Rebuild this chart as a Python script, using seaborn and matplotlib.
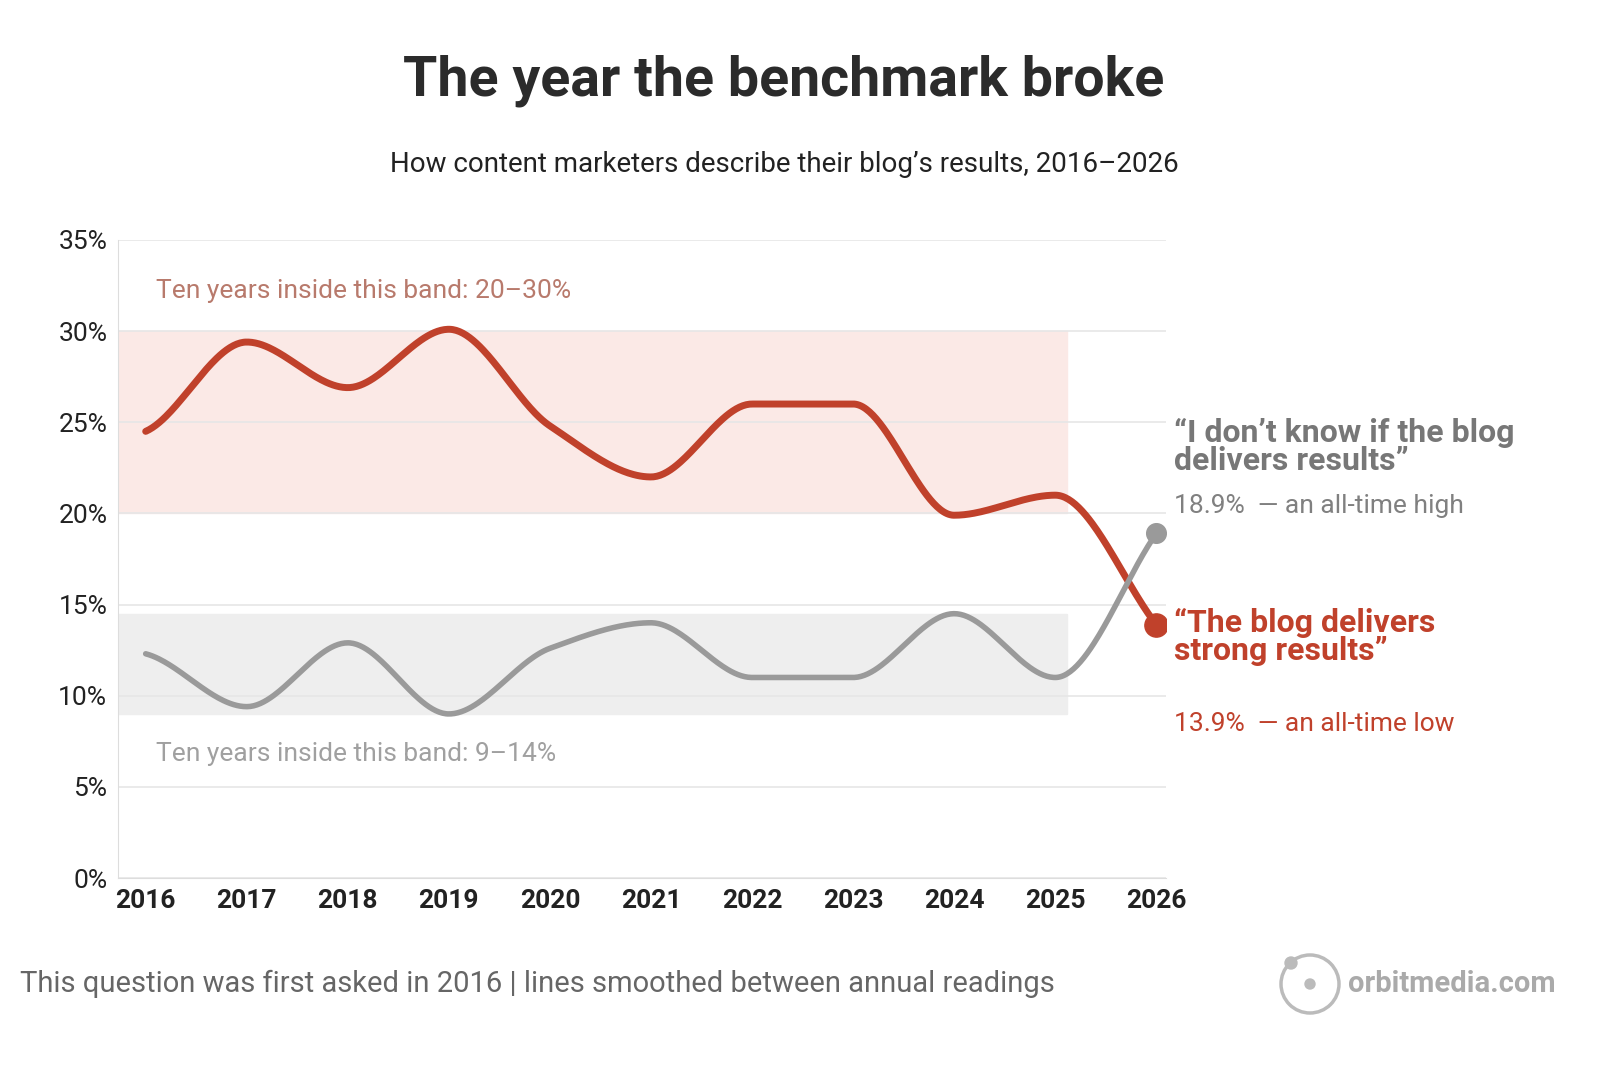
import numpy as np
import pandas as pd
import matplotlib
matplotlib.use("Agg")
import matplotlib.pyplot as plt
from matplotlib.patches import Ellipse
import seaborn as sns

years = [2016, 2017, 2018, 2019, 2020, 2021, 2022, 2023, 2024, 2025, 2026]
strong = [24.5, 29.4, 26.9, 30.1, 24.8, 22.0, 26.0, 26.0, 19.9, 21.0, 13.9]
dont_know = [12.3, 9.4, 12.9, 9.0, 12.6, 14.0, 11.0, 11.0, 14.5, 11.0, 18.9]
yticks = [0, 5, 10, 15, 20, 25, 30, 35]

RED = "#c0412b"
GRAY = "#9a9a9a"

def pchip(x, y, xs):
    x = np.asarray(x, float); y = np.asarray(y, float)
    h = np.diff(x); d = np.diff(y) / h
    m = np.zeros_like(y)
    for k in range(1, len(y) - 1):
        if d[k-1] * d[k] > 0:
            w1 = 2*h[k] + h[k-1]; w2 = h[k] + 2*h[k-1]
            m[k] = (w1 + w2) / (w1/d[k-1] + w2/d[k])
    m[0] = d[0] * 0.5; m[-1] = d[-1]
    out = np.empty_like(xs)
    for i, xv in enumerate(xs):
        k = min(np.searchsorted(x, xv, side="right") - 1, len(x) - 2)
        t = (xv - x[k]) / h[k]
        h00 = 2*t**3 - 3*t**2 + 1; h10 = t**3 - 2*t**2 + t
        h01 = -2*t**3 + 3*t**2; h11 = t**3 - t**2
        out[i] = h00*y[k] + h10*h[k]*m[k] + h01*y[k+1] + h11*h[k]*m[k+1]
    return out

xs = np.linspace(2016, 2026, 600)
df = pd.DataFrame({
    "year": np.concatenate([xs, xs]),
    "value": np.concatenate([pchip(years, strong, xs), pchip(years, dont_know, xs)]),
    "series": ["strong"] * len(xs) + ["dont"] * len(xs),
})

sns.set_style("white")
plt.rcParams["font.family"] = ["Roboto", "DejaVu Sans"]

W, H = 1600, 1076
fig = plt.figure(figsize=(16, 10.76), dpi=100)
ax = fig.add_axes([0.074, 0.184, 0.655, 0.593])

bx = (2025.12 - 2015.73) / (2026.1 - 2015.73)
ax.axhspan(20, 30, xmin=0, xmax=bx, color="#fbe9e6", zorder=0)
ax.axhspan(9, 14.5, xmin=0, xmax=bx, color="#eeeeee", zorder=0)
for t in yticks:
    ax.axhline(t, color="#e6e6e6", lw=1.2, zorder=0.5)

sns.lineplot(data=df, x="year", y="value", hue="series", palette={"strong": RED, "dont": GRAY},
             linewidth=5, ax=ax, legend=False, zorder=3)
ax.lines[-1].set_linewidth(4)
ax.scatter([2026], [dont_know[-1]], s=200, color=GRAY, zorder=4)
ax.scatter([2026], [strong[-1]], s=280, color=RED, zorder=5)

ax.set_xlim(2015.73, 2026.1)
ax.set_ylim(0, 35)
ax.set_xticks(years)
ax.set_xticklabels([str(y) for y in years], fontsize=19, fontweight="bold", color="#222222")
ax.set_yticks(yticks)
ax.set_yticklabels([f"{t}%" for t in yticks], fontsize=19, color="#222222")
ax.tick_params(axis="both", length=0, pad=8)
ax.set_xlabel(""); ax.set_ylabel("")
for s in ["top", "right"]:
    ax.spines[s].set_visible(False)
for s in ["left", "bottom"]:
    ax.spines[s].set_color("#dddddd")

ax.text(2016.1, 32.2, "Ten years inside this band: 20–30%", fontsize=19, color="#b87a6c", va="center")
ax.text(2016.1, 6.8, "Ten years inside this band: 9–14%", fontsize=19, color="#a0a0a0", va="center")

fig.text(0.49, 0.925, "The year the benchmark broke", ha="center", va="center",
         fontsize=40, fontweight="bold", color="#2b2b2b")
fig.text(0.49, 0.847, "How content marketers describe their blog’s results, 2016–2026", ha="center",
         va="center", fontsize=20, color="#222222")

fx = 1174 / W
fig.text(fx, 1 - 447 / H, "“I don’t know if the blog\ndelivers results”", fontsize=23, fontweight="bold",
         color="#777777", va="center", linespacing=0.95)
fig.text(fx, 1 - 506 / H, "18.9%  — an all-time high", fontsize=19, color="#808080", va="center")
fig.text(fx, 1 - 637 / H, "“The blog delivers\nstrong results”", fontsize=23, fontweight="bold",
         color=RED, va="center", linespacing=0.95)
fig.text(fx, 1 - 724 / H, "13.9%  — an all-time low", fontsize=19, color=RED, va="center")

fig.text(20 / W, 1 - 984 / H, "This question was first asked in 2016 | lines smoothed between annual readings",
         fontsize=21, color="#666666", va="center")
fig.text(1348 / W, 1 - 984 / H, "orbitmedia.com", fontsize=21, color="#aaaaaa", va="center", fontweight="bold")
cx, cy, r = 1310 / W, 1 - 984 / H, 29
fig.add_artist(Ellipse((cx, cy), 2 * r / W, 2 * r / H, transform=fig.transFigure, fill=False,
                       ec="#bbbbbb", lw=2.5))
fig.add_artist(Ellipse((cx, cy), 10 / W, 10 / H, transform=fig.transFigure, color="#bbbbbb"))
fig.add_artist(Ellipse((cx - 19 / W, cy + 21 / H), 12 / W, 12 / H, transform=fig.transFigure,
                       color="#bbbbbb"))

fig.savefig("out.png", dpi=100, facecolor="white")
